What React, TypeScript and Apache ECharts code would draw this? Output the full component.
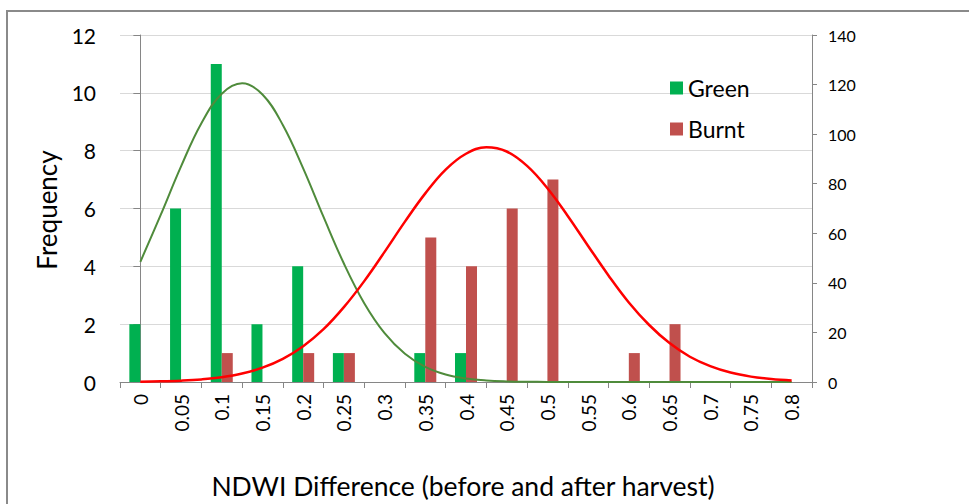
import React, { useEffect, useRef } from "react";
import * as echarts from "echarts";

// NDWI difference bins (before and after harvest)
const categories = [
  "0", "0.05", "0.1", "0.15", "0.2", "0.25", "0.3", "0.35", "0.4",
  "0.45", "0.5", "0.55", "0.6", "0.65", "0.7", "0.75", "0.8",
];

// Histogram counts per bin
const greenFreq = [2, 6, 11, 2, 4, 1, 0, 1, 1, 0, 0, 0, 0, 0, 0, 0, 0];
const burntFreq = [0, 0, 1, 0, 1, 1, 0, 5, 4, 6, 7, 0, 1, 2, 0, 0, 0];

// Fitted normal curves (secondary axis), sampled every 0.025 from 0 to 0.8
const curveX = [
  0, 0.025, 0.05, 0.075, 0.1, 0.125, 0.15, 0.175, 0.2, 0.225, 0.25, 0.275, 0.3,
  0.325, 0.35, 0.375, 0.4, 0.425, 0.45, 0.475, 0.5, 0.525, 0.55, 0.575, 0.6,
  0.625, 0.65, 0.675, 0.7, 0.725, 0.75, 0.775, 0.8,
];
const greenCurve = [
  48.5, 67.4, 87.0, 104.4, 116.3, 120.5, 116.0, 103.7, 86.2, 66.6, 47.8, 31.8, 19.7,
  11.4, 6.1, 3.0, 1.4, 0.6, 0.24, 0.1, 0.03, 0, 0, 0, 0,
  0, 0, 0, 0, 0, 0, 0, 0,
];
const burntCurve = [
  0.12, 0.26, 0.54, 1.04, 1.92, 3.41, 5.78, 9.35, 14.45, 21.3, 30.2, 40.7, 52.5,
  64.7, 76.1, 85.7, 92.1, 94.7, 93.0, 87.2, 78.2, 67.0, 54.9, 43.0, 32.1,
  23.0, 15.7, 10.2, 6.4, 3.8, 2.17, 1.18, 0.61,
];

// Axis tick settings
const freqAxis = { min: 0, max: 12, interval: 2 };
const curveAxis = { min: 0, max: 140, interval: 20 };

const FONT = "Lato, 'Open Sans', sans-serif";
const AXIS_GREY = "#868686";

export default function App() {
  const ref = useRef<HTMLDivElement>(null);

  useEffect(() => {
    if (!ref.current) return;
    const chart = echarts.init(ref.current, undefined, { renderer: "svg" });
    const pairs = (ys: number[]) => curveX.map((x, i) => [x, ys[i]]);
    chart.setOption({
      animation: false,
      backgroundColor: "#ffffff",
      textStyle: { fontFamily: FONT },
      grid: { left: 120, right: 157, top: 35, bottom: 122, containLabel: false },
      legend: {
        data: ["Green", "Burnt"],
        orient: "vertical",
        left: 665,
        top: 71,
        itemWidth: 13,
        itemHeight: 13,
        itemGap: 17,
        icon: "rect",
        textStyle: { fontSize: 23, color: "#000", fontFamily: FONT, lineHeight: 24 },
      },
      graphic: [
        {
          type: "rect",
          shape: { x: 7, y: 11, width: 1100, height: 700 },
          style: { fill: "none", stroke: "#8a8a8a", lineWidth: 2 },
          silent: true,
        },
        {
          type: "text",
          x: 47,
          y: 210,
          rotation: Math.PI / 2,
          style: {
            text: "Frequency",
            fontSize: 26,
            fontFamily: FONT,
            fill: "#000",
            align: "center",
            verticalAlign: "middle",
          },
        },
        {
          type: "text",
          x: 463,
          y: 486,
          style: {
            text: "NDWI Difference (before and after harvest)",
            fontSize: 26.5,
            fontFamily: FONT,
            fill: "#000",
            align: "center",
            verticalAlign: "middle",
          },
        },
      ],
      xAxis: [
        {
          type: "category",
          data: categories,
          boundaryGap: true,
          axisLine: { lineStyle: { color: AXIS_GREY, width: 1 } },
          axisTick: { show: true, length: 6, lineStyle: { color: AXIS_GREY } },
          axisLabel: {
            rotate: 90,
            fontSize: 19,
            color: "#000",
            margin: 12,
            fontFamily: FONT,
            interval: 0,
          },
          splitLine: { show: false },
        },
        {
          // continuous axis aligned with the bin centres, used by the fitted curves
          type: "value",
          min: -0.025,
          max: 0.825,
          show: false,
          splitLine: { show: false },
        },
      ],
      yAxis: [
        {
          type: "value",
          ...freqAxis,
          axisLine: { show: true, lineStyle: { color: AXIS_GREY } },
          axisTick: { show: true, length: 7, lineStyle: { color: AXIS_GREY } },
          axisLabel: { fontSize: 21, color: "#000", margin: 24, fontFamily: FONT },
          splitLine: { show: true, lineStyle: { color: "#d9d9d9", width: 1 } },
        },
        {
          type: "value",
          position: "right",
          ...curveAxis,
          axisLine: { show: true, lineStyle: { color: AXIS_GREY } },
          axisTick: { show: true, length: 5, lineStyle: { color: AXIS_GREY } },
          axisLabel: { fontSize: 16, color: "#000", margin: 16, fontFamily: FONT },
          splitLine: { show: false },
        },
      ],
      series: [
        {
          name: "Green",
          type: "bar",
          data: greenFreq,
          barWidth: 11,
          barGap: "0%",
          itemStyle: { color: "#00b050" },
          xAxisIndex: 0,
          yAxisIndex: 0,
          z: 2,
        },
        {
          name: "Burnt",
          type: "bar",
          data: burntFreq,
          barWidth: 11,
          barGap: "0%",
          itemStyle: { color: "#c0504d" },
          xAxisIndex: 0,
          yAxisIndex: 0,
          z: 2,
        },
        {
          name: "Green fit",
          type: "line",
          data: pairs(greenCurve),
          xAxisIndex: 1,
          yAxisIndex: 1,
          smooth: 0.4,
          showSymbol: false,
          symbol: "none",
          lineStyle: { color: "#4f8b3b", width: 2 },
          z: 3,
        },
        {
          name: "Burnt fit",
          type: "line",
          data: pairs(burntCurve),
          xAxisIndex: 1,
          yAxisIndex: 1,
          smooth: 0.4,
          showSymbol: false,
          symbol: "none",
          lineStyle: { color: "#ff0000", width: 2.5 },
          z: 4,
        },
      ],
    });
    return () => chart.dispose();
  }, []);

  return (
    <div
      ref={ref}
      style={{ position: "fixed", left: 0, top: 0, width: 969, height: 504, background: "#fff" }}
    />
  );
}
